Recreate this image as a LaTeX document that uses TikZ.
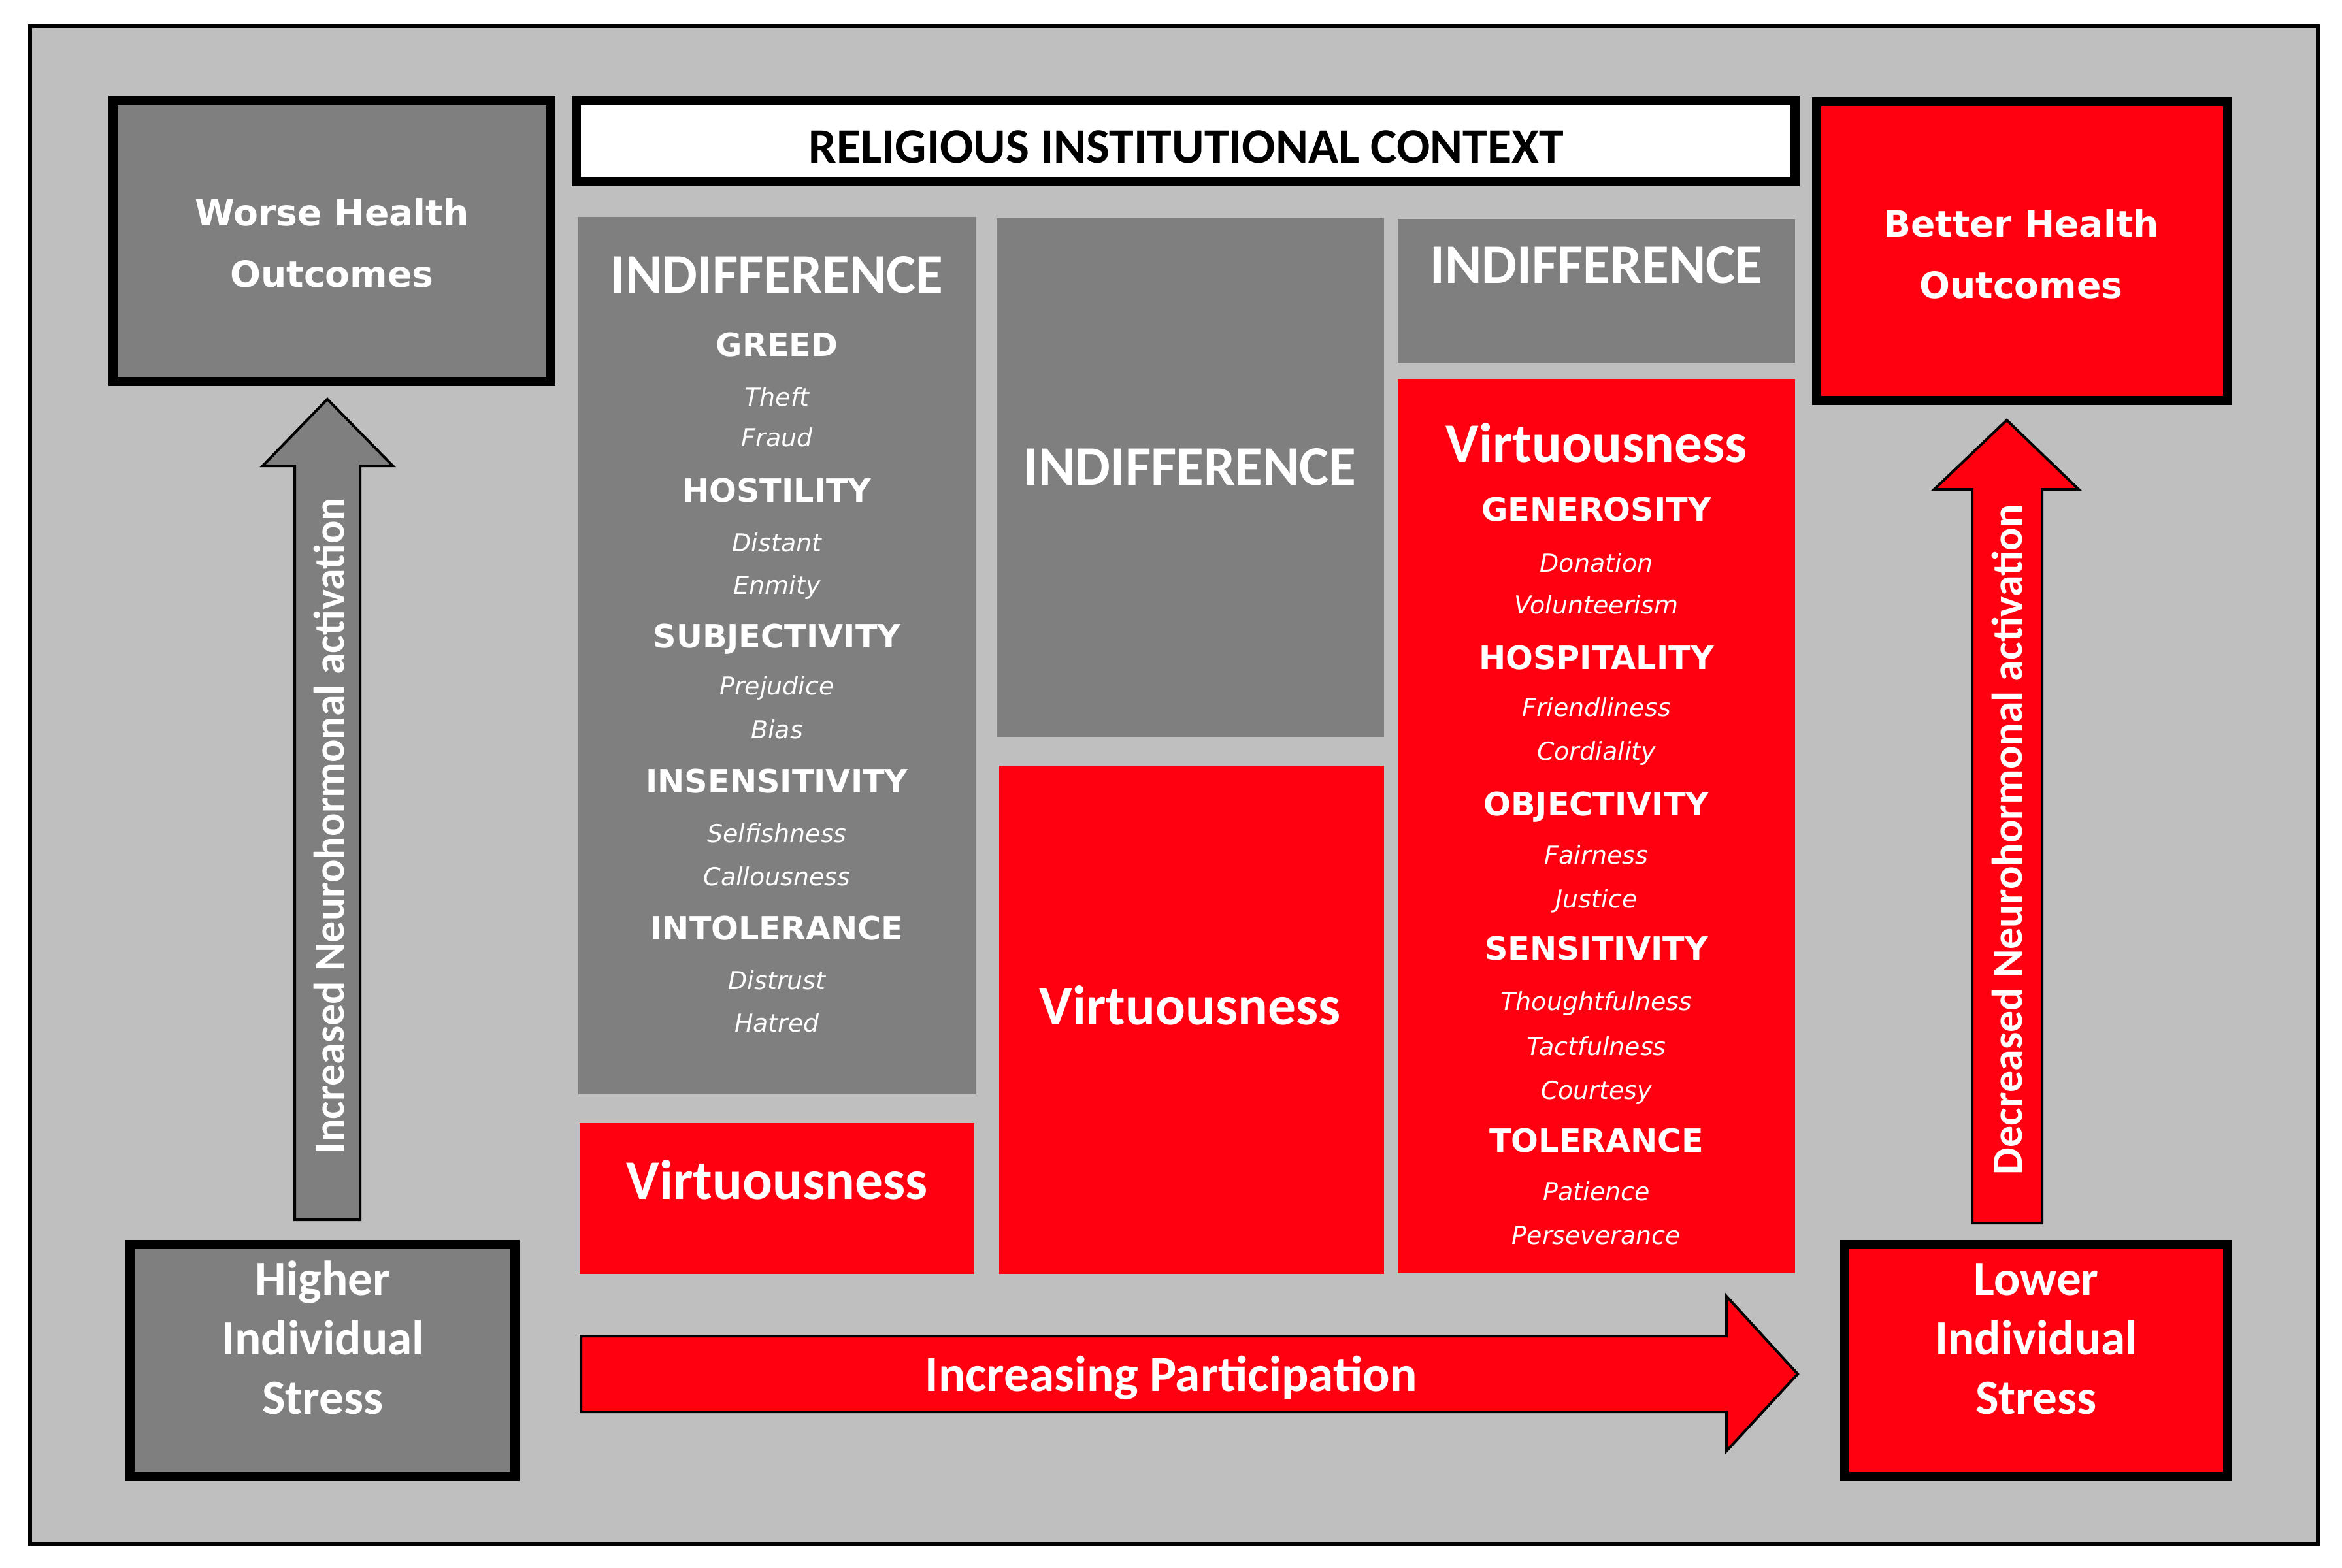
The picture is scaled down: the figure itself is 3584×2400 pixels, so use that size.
\documentclass[tikz,border=0pt]{standalone}
\usepackage{fontspec}
\setmainfont{DejaVu Sans}
\newfontfamily\verfont{DejaVu Sans}
\newfontfamily\calfont{Carlito}
\usetikzlibrary{fit}
\definecolor{bgc}{RGB}{191,191,191}
\definecolor{gboxc}{RGB}{127,127,127}
\definecolor{rboxc}{RGB}{255,0,16}
\tikzset{
  plainbox/.style={inner sep=0pt, draw=none},
  heavybox/.style={inner sep=0pt, draw=black, line width=0.14cm},
  arrowshape/.style={draw=black, line width=0.04cm, line join=miter},
  tt/.style={inner sep=0pt, text=white, text depth=0pt},
  ttHead/.style={tt, font=\verfont\bfseries\fontsize{14}{14}\selectfont, text height=10.2pt},
  ttItal/.style={tt, font=\verfont\itshape\fontsize{10.8}{10.8}\selectfont, text height=7.9pt},
  ttBig/.style={tt, font=\calfont\bfseries\fontsize{24.3}{24.3}\selectfont, text height=15.6pt},
  ttOut/.style={tt, font=\verfont\bfseries\fontsize{15.7}{15.7}\selectfont, text height=11.4pt},
  ttStress/.style={tt, font=\calfont\bfseries\fontsize{21.4}{21.4}\selectfont, text height=13.8pt},
  ttArrow/.style={tt, font=\calfont\bfseries\fontsize{18.8}{18.8}\selectfont, text height=12.1pt},
  ttPart/.style={tt, font=\calfont\bfseries\fontsize{22}{22}\selectfont, text height=14.2pt},
  ttTitle/.style={inner sep=0pt, text=black, text depth=0pt, font=\calfont\bfseries\fontsize{21.6}{21.6}\selectfont, text height=13.9pt},
}
\begin{document}
\begin{tikzpicture}[x=0.01cm,y=-0.01cm]
\useasboundingbox (0,0) rectangle (3584,2400);
\fill[white] (0,0) rectangle (3584,2400);
% outer frame
\node[fit={(46,40)(3547,2363)}, inner sep=0pt, draw=black, line width=0.06cm, fill=bgc] (frame) {};

% top boxes
\node[heavybox, fill=gboxc, fit={(173,154)(843,584)}] (worse) {};
\node[heavybox, fill=white, fit={(882,154)(2747,278)}] (title) {};
\node[heavybox, fill=rboxc, fit={(2780,156)(3409,613)}] (better) {};
\node[heavybox, fill=gboxc, fit={(199,1905)(788,2260)}] (higher) {};
\node[heavybox, fill=rboxc, fit={(2823,1905)(3409,2260)}] (lower) {};

% columns
\node[plainbox, fill=gboxc, fit={(885,332)(1493,1675)}] (colLg) {};
\node[plainbox, fill=rboxc, fit={(887,1719)(1491,1950)}] (colLr) {};
\node[plainbox, fill=gboxc, fit={(1525,334)(2118,1128)}] (colMg) {};
\node[plainbox, fill=rboxc, fit={(1529,1172)(2118,1950)}] (colMr) {};
\node[plainbox, fill=gboxc, fit={(2139,335)(2747,555)}] (colRg) {};
\node[plainbox, fill=rboxc, fit={(2139,580)(2747,1949)}] (colRr) {};

% arrows
\draw[arrowshape, fill=gboxc] (451,1867) -- (451,713) -- (402,713) -- (501,611) -- (601,713) -- (551,713) -- (551,1867) -- cycle;
\draw[arrowshape, fill=rboxc] (3018,1872) -- (3018,749) -- (2960,749) -- (3071,643) -- (3181,749) -- (3125,749) -- (3125,1872) -- cycle;
\draw[arrowshape, fill=rboxc] (889,2045) -- (2642,2045) -- (2642,1984) -- (2751,2103) -- (2642,2221) -- (2642,2161) -- (889,2161) -- cycle;

% texts in boxes
\node[ttTitle] (titletxt) at (1815,225) {RELIGIOUS INSTITUTIONAL CONTEXT};
\node[ttOut] (worse1) at (508,325) {Worse Health};
\node[ttOut] (worse2) at (508,419) {Outcomes};
\node[ttOut] (better1) at (3093,342) {Better Health};
\node[ttOut] (better2) at (3093,436) {Outcomes};
\node[ttStress] (higher1) at (494,1958) {Higher};
\node[ttStress] (higher2) at (494,2049) {Individual};
\node[ttStress] (higher3) at (494,2140) {Stress};
\node[ttStress] (lower1) at (3116,1958) {Lower};
\node[ttStress] (lower2) at (3116,2049) {Individual};
\node[ttStress] (lower3) at (3116,2140) {Stress};

% arrow texts
\node[ttArrow, rotate=90] (incr) at (505,1264) {Increased Neurohormonal activation};
\node[ttArrow, rotate=90] (decr) at (3073,1285) {Decreased Neurohormonal activation};
\node[ttPart] (part) at (1792,2105) {Increasing Participation};

% left column
\node[ttBig] (lind) at (1189,421) {INDIFFERENCE};
\foreach \w/\y [count=\i] in {GREED/528, HOSTILITY/751, SUBJECTIVITY/974, INSENSITIVITY/1196, INTOLERANCE/1421}
  \node[ttHead] (lh\i) at (1189,\y) {\w};
\foreach \w/\y [count=\i] in {Theft/608, Fraud/670, Distant/831, Enmity/896, Prejudice/1050, Bias/1117, Selfishness/1276, Callousness/1342, Distrust/1501, Hatred/1566}
  \node[ttItal] (li\i) at (1189,\y) {\w};
\node[ttBig] (lvirt) at (1189,1808) {Virtuousness};

% middle column
\node[ttBig] (mind) at (1821,715) {INDIFFERENCE};
\node[ttBig] (mvirt) at (1821,1541) {Virtuousness};

% right column
\node[ttBig] (rind) at (2443,406) {INDIFFERENCE};
\node[ttBig] (rvirt) at (2443,680) {Virtuousness};
\foreach \w/\y [count=\i] in {GENEROSITY/780, HOSPITALITY/1007, OBJECTIVITY/1231, SENSITIVITY/1452, TOLERANCE/1746}
  \node[ttHead] (rh\i) at (2443,\y) {\w};
\foreach \w/\y [count=\i] in {Donation/862, Volunteerism/926, Friendliness/1083, Cordiality/1150, Fairness/1309, Justice/1376, Thoughtfulness/1533, Tactfulness/1602, Courtesy/1669, Patience/1824, Perseverance/1891}
  \node[ttItal] (ri\i) at (2443,\y) {\w};
\end{tikzpicture}
\end{document}
